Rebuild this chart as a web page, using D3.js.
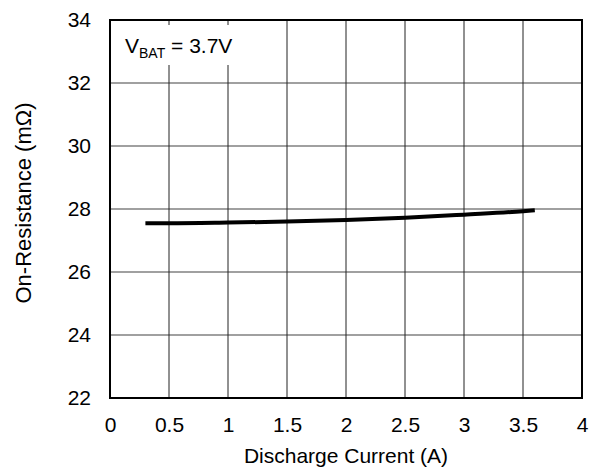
<!DOCTYPE html>
<meta charset="utf-8">
<style>
  body { margin: 0; background: #fff; }
  text { font-family: "Liberation Sans", Arial, sans-serif; fill: #000; }
</style>
<body>
<script src="https://cdn.jsdelivr.net/npm/d3@7/dist/d3.min.js"></script>
<script>

    // discharge current (A) vs on-resistance (mOhm)
    var current = [0.3, 0.5, 1.0, 1.5, 2.0, 2.5, 3.0, 3.5, 3.6];
    var resistance = [27.55, 27.55, 27.57, 27.6, 27.65, 27.72, 27.82, 27.93, 27.96];
    var xTicks = [0, 0.5, 1, 1.5, 2, 2.5, 3, 3.5, 4];
    var yTicks = [22, 24, 26, 28, 30, 32, 34];

    var w = 590, h = 468;
    var margin = {left: 110, right: 8, top: 20, bottom: 70};

    var svg = d3.select("body")
            .append("svg")
            .attr("width", w)
            .attr("height", h);

    var x = d3.scaleLinear().domain([0, 4]).range([margin.left, w - margin.right]);
    var y = d3.scaleLinear().domain([22, 34]).range([h - margin.bottom, margin.top]);

    // grid
    svg.append("g").selectAll("line")
            .data(yTicks)
            .enter().append("line")
            .attr("x1", x(0)).attr("x2", x(4))
            .attr("y1", function(d) { return y(d); })
            .attr("y2", function(d) { return y(d); })
            .attr("stroke", "#808080")
            .attr("stroke-width", 1.5);

    svg.append("g").selectAll("line")
            .data(xTicks)
            .enter().append("line")
            .attr("x1", function(d) { return x(d); })
            .attr("x2", function(d) { return x(d); })
            .attr("y1", y(22)).attr("y2", y(34))
            .attr("stroke", "#222")
            .attr("stroke-width", 1);

    // annotation box hides grid behind the text
    svg.append("rect")
            .attr("x", x(0) + 4).attr("y", y(34) + 5)
            .attr("width", 128).attr("height", 40)
            .attr("fill", "#fff");

    var label = svg.append("text")
            .attr("x", x(0) + 15)
            .attr("y", 53)
            .style("font-size", "21px");
    label.append("tspan").text("V");
    label.append("tspan").attr("dy", 5).style("font-size", "14px").text("BAT");
    label.append("tspan").attr("dy", -5).text(" = 3.7V");

    // curve
    var line = d3.line()
            .x(function(d, i) { return x(current[i]); })
            .y(function(d) { return y(d); })
            .curve(d3.curveMonotoneX);

    svg.append("path")
            .datum(resistance)
            .attr("d", line)
            .attr("fill", "none")
            .attr("stroke", "#000")
            .attr("stroke-width", 4);

    // frame
    svg.append("rect")
            .attr("x", x(0)).attr("y", y(34))
            .attr("width", x(4) - x(0)).attr("height", y(22) - y(34))
            .attr("fill", "none")
            .attr("stroke", "#000")
            .attr("stroke-width", 2);

    // axes
    var xAxis = d3.axisBottom(x).tickValues(xTicks).tickSize(0).tickPadding(19)
            .tickFormat(d3.format("~g"));
    svg.append("g")
            .attr("transform", "translate(0," + y(22) + ")")
            .call(xAxis)
            .call(function(g) { g.select(".domain").remove(); })
            .selectAll("text")
            .style("font-size", "21px")
            .attr("fill", "#000");

    var yAxis = d3.axisLeft(y).tickValues(yTicks).tickSize(0).tickPadding(19);
    svg.append("g")
            .attr("transform", "translate(" + x(0) + ",0)")
            .call(yAxis)
            .call(function(g) { g.select(".domain").remove(); })
            .selectAll("text")
            .style("font-size", "21px")
            .attr("fill", "#000");

    svg.append("text")
            .attr("x", (x(0) + x(4)) / 2)
            .attr("y", 463)
            .attr("text-anchor", "middle")
            .style("font-size", "21px")
            .text("Discharge Current (A)");

    svg.append("text")
            .attr("transform", "translate(31,203) rotate(-90)")
            .attr("text-anchor", "middle")
            .style("font-size", "22px")
            .text("On-Resistance (m\u03A9)");

</script>
